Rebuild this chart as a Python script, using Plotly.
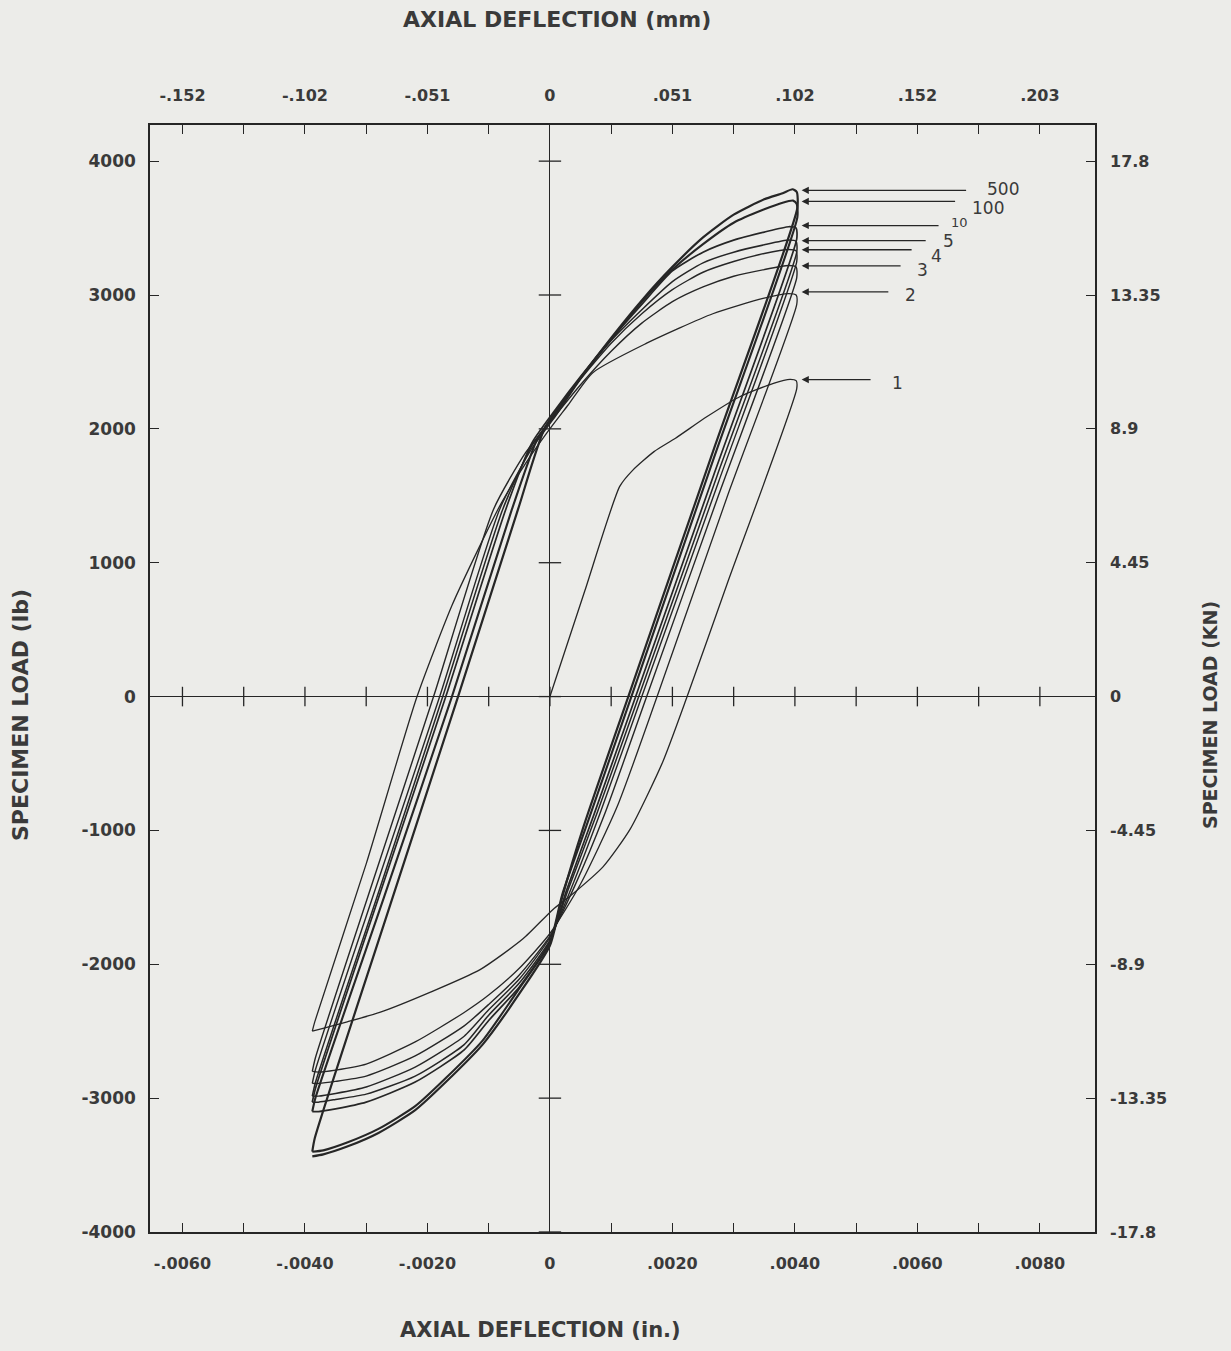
import plotly.graph_objects as go

# ---------------- data (inches, lb) ----------------
cycle_labels = ["1", "2", "3", "4", "5", "10", "100", "500"]

c1_x = [0.0, 0.00057, 0.00114, 0.00135, 0.00170, 0.00205, 0.00256, 0.00310, 0.00365, 0.00392, 0.00402,
        0.00403, 0.00290, 0.00224, 0.00184, 0.00131, 0.00087, 0.00033, 0.00005, -0.00044, -0.00114,
        -0.00196, -0.00278, -0.00331, -0.00372, -0.00388]
c1_y = [0, 790, 1570, 1690, 1830, 1930, 2090, 2240, 2340, 2370, 2360,
        2300, 850, 0, -490, -990, -1270, -1490, -1590, -1810, -2040,
        -2210, -2360, -2430, -2480, -2500]

c2_x = [-0.00388, -0.00384, -0.00300, -0.00217, -0.00160, -0.00115, -0.00080, -0.00040, -0.00005, 0.00030,
        0.00070, 0.00158, 0.00266, 0.00348, 0.00390, 0.00402,
        0.00403, 0.00290, 0.00175, 0.00110, 0.00050, 0.00000, -0.00050, -0.00100, -0.00140, -0.00220,
        -0.00300, -0.00350, -0.00378, -0.00388]
c2_y = [-2500, -2430, -1250, 0, 680, 1120, 1440, 1740, 1970, 2180,
        2420, 2640, 2860, 2975, 3010, 3000,
        2930, 1500, 0, -820, -1400, -1770, -2030, -2230, -2360, -2580,
        -2745, -2790, -2805, -2800]

c3_x = [-0.00388, -0.00383, -0.00289, -0.00190, -0.00092, -0.00040, 0.00000, 0.00050, 0.00100, 0.00150,
        0.00200, 0.00250, 0.00300, 0.00350, 0.00390, 0.00402,
        0.00403, 0.00275, 0.00158, 0.00090, 0.00040, 0.00000, -0.00050, -0.00100, -0.00140, -0.00220,
        -0.00300, -0.00350, -0.00378, -0.00388]
c3_y = [-2800, -2700, -1380, 0, 1400, 1820, 2050, 2330, 2580, 2790,
        2950, 3060, 3140, 3190, 3220, 3210,
        3130, 1500, 0, -870, -1420, -1790, -2080, -2300, -2460, -2685,
        -2835, -2875, -2890, -2890]

c4_x = [-0.00388, -0.00383, -0.00286, -0.00180, -0.00082, -0.00030, 0.00010, 0.00050, 0.00100, 0.00150,
        0.00200, 0.00250, 0.00300, 0.00350, 0.00390, 0.00402,
        0.00403, 0.00275, 0.00150, 0.00082, 0.00035, 0.00000, -0.00050, -0.00100, -0.00140, -0.00220,
        -0.00300, -0.00350, -0.00378, -0.00388]
c4_y = [-2890, -2790, -1450, 0, 1400, 1850, 2100, 2370, 2640, 2860,
        3040, 3170, 3250, 3310, 3340, 3330,
        3250, 1600, 0, -870, -1430, -1800, -2110, -2340, -2537, -2768,
        -2917, -2965, -2985, -2985]

c5_x = [-0.00388, -0.00383, -0.00279, -0.00175, -0.00077, -0.00030, 0.00010, 0.00050, 0.00100, 0.00150,
        0.00200, 0.00250, 0.00300, 0.00350, 0.00390, 0.00402,
        0.00403, 0.00273, 0.00145, 0.00077, 0.00030, 0.00000, -0.00050, -0.00100, -0.00140, -0.00220,
        -0.00300, -0.00350, -0.00378, -0.00388]
c5_y = [-2985, -2885, -1450, 0, 1400, 1870, 2120, 2380, 2660, 2890,
        3100, 3240, 3320, 3375, 3410, 3400,
        3320, 1650, 0, -870, -1440, -1820, -2140, -2380, -2600, -2835,
        -2970, -3010, -3030, -3030]

c10_x = [-0.00388, -0.00383, -0.00276, -0.00170, -0.00072, -0.00030, 0.00010, 0.00050, 0.00100, 0.00150,
         0.00200, 0.00250, 0.00300, 0.00350, 0.00390, 0.00402,
         0.00403, 0.00267, 0.00140, 0.00072, 0.00027, 0.00000, -0.00050, -0.00100, -0.00140, -0.00220,
         -0.00300, -0.00350, -0.00378, -0.00388]
c10_y = [-3030, -2930, -1450, 0, 1400, 1890, 2150, 2390, 2670, 2930,
         3180, 3320, 3410, 3470, 3510, 3500,
         3420, 1650, 0, -880, -1450, -1830, -2170, -2420, -2640, -2880,
         -3030, -3080, -3100, -3100]

c100_x = [-0.00388, -0.00383, -0.00271, -0.00160, -0.00062, -0.00020, 0.00010, 0.00050, 0.00100, 0.00150,
          0.00200, 0.00250, 0.00300, 0.00350, 0.00380, 0.00397, 0.00403,
          0.00404, 0.00269, 0.00133, 0.00060, 0.00020, 0.00000, -0.00050, -0.00110, -0.00170, -0.00220,
          -0.00280, -0.00330, -0.00370, -0.00388]
c100_y = [-3100, -3000, -1500, 0, 1400, 1930, 2120, 2380, 2670, 2950,
          3190, 3380, 3540, 3640, 3690, 3705, 3680,
          3580, 1800, 0, -960, -1480, -1840, -2180, -2570, -2850, -3060,
          -3230, -3330, -3390, -3400]

c500_x = [-0.00388, -0.00384, -0.00271, -0.00150, -0.00052, -0.00008, 0.00050, 0.00100, 0.00150,
          0.00200, 0.00250, 0.00300, 0.00350, 0.00380, 0.00396, 0.00403,
          0.00404, 0.00270, 0.00128, 0.00055, 0.00020, 0.00000, -0.00050, -0.00110, -0.00170, -0.00220,
          -0.00280, -0.00330, -0.00370, -0.00388]
c500_y = [-3400, -3300, -1700, 0, 1400, 2010, 2380, 2680, 2960,
          3210, 3430, 3600, 3715, 3760, 3790, 3770,
          3650, 1880, 0, -970, -1500, -1860, -2220, -2600, -2880, -3090,
          -3260, -3360, -3420, -3435]

loops_x = [c1_x, c2_x, c3_x, c4_x, c5_x, c10_x, c100_x, c500_x]
loops_y = [c1_y, c2_y, c3_y, c4_y, c5_y, c10_y, c100_y, c500_y]

# axis ticks
in_ticks = [-0.006, -0.005, -0.004, -0.003, -0.002, -0.001, 0.0, 0.001, 0.002, 0.003, 0.004, 0.005, 0.006, 0.007, 0.008]
in_labels = ["-.0060", "", "-.0040", "", "-.0020", "", "0", "", ".0020", "", ".0040", "", ".0060", "", ".0080"]
mm_labels = ["-.152", "", "-.102", "", "-.051", "", "0", "", ".051", "", ".102", "", ".152", "", ".203"]
lb_ticks = [4000, 3000, 2000, 1000, 0, -1000, -2000, -3000, -4000]
lb_labels = ["4000", "3000", "2000", "1000", "0", "-1000", "-2000", "-3000", "-4000"]
kn_labels = ["17.8", "13.35", "8.9", "4.45", "0", "-4.45", "-8.9", "-13.35", "-17.8"]

# cycle-number arrows
arrow_labels = ["500", "100", "10", "5", "4", "3", "2", "1"]
arrow_loads = [3782, 3699, 3519, 3406, 3338, 3218, 3023, 2368]
arrow_tail_x = [0.00682, 0.00664, 0.00637, 0.00616, 0.00593, 0.00575, 0.00555, 0.00526]
label_x = [0.00740, 0.00715, 0.00668, 0.00651, 0.00631, 0.00609, 0.00588, 0.00567]
label_y = [3790, 3650, 3545, 3400, 3290, 3185, 3000, 2345]

# ---------------- figure ----------------
INK = "#262626"
TXT = "#3a3a3a"
BG = "#ecece9"
FONT = "DejaVu Sans"

fig = go.Figure()

widths = [1.3, 1.3, 1.4, 1.4, 1.5, 1.7, 2.1, 2.2]
for lx, ly, lab, w in zip(loops_x, loops_y, cycle_labels, widths):
    fig.add_trace(go.Scatter(x=lx, y=ly, mode="lines", name="cycle " + lab,
                             line=dict(color=INK, width=w, shape="spline", smoothing=0.6),
                             hoverinfo="skip", showlegend=False))

# cross ticks on the inner axes
fig.add_trace(go.Scatter(x=[0.0] * len(lb_ticks), y=lb_ticks, mode="markers",
                         marker=dict(symbol="line-ew", size=16, line=dict(color=INK, width=1.3)),
                         hoverinfo="skip", showlegend=False))
fig.add_trace(go.Scatter(x=in_ticks, y=[0.0] * len(in_ticks), mode="markers",
                         marker=dict(symbol="line-ns", size=14, line=dict(color=INK, width=1.3)),
                         hoverinfo="skip", showlegend=False))
# dummy trace for secondary axes
fig.add_trace(go.Scatter(x=[None], y=[None], xaxis="x2", yaxis="y2", showlegend=False, hoverinfo="skip"))

xr = [-0.00653, 0.0089]
yr = [-4000, 4270]
xfont = dict(family=FONT, size=16, color=TXT, weight="bold")
ylfont = dict(family=FONT, size=17, color=TXT, weight="bold")
yrfont = dict(family=FONT, size=16, color=TXT, weight="bold")

fig.update_layout(
    width=1215, height=1335,
    margin=dict(l=142, r=128, t=117, b=111),
    paper_bgcolor=BG, plot_bgcolor=BG,
    showlegend=False, hovermode=False,
    xaxis=dict(range=xr, tickmode="array", tickvals=in_ticks, ticktext=in_labels,
               ticks="inside", ticklen=9, tickwidth=1.3, tickcolor=INK,
               showline=True, linecolor=INK, linewidth=1.6, showgrid=False,
               zeroline=True, zerolinecolor=INK, zerolinewidth=1.2,
               tickfont=xfont, side="bottom", ticklabelstandoff=16),
    xaxis2=dict(range=xr, overlaying="x", side="top", tickmode="array", tickvals=in_ticks, ticktext=mm_labels,
                ticks="inside", ticklen=9, tickwidth=1.3, tickcolor=INK,
                showline=True, linecolor=INK, linewidth=1.6, showgrid=False, zeroline=False,
                tickfont=xfont, ticklabelstandoff=16),
    yaxis=dict(range=yr, tickmode="array", tickvals=lb_ticks, ticktext=lb_labels,
               ticks="inside", ticklen=9, tickwidth=1.3, tickcolor=INK,
               showline=True, linecolor=INK, linewidth=1.6, showgrid=False,
               zeroline=True, zerolinecolor=INK, zerolinewidth=1.2,
               tickfont=ylfont, ticklabelstandoff=9),
    yaxis2=dict(range=yr, overlaying="y", side="right", tickmode="array", tickvals=lb_ticks, ticktext=kn_labels,
                ticks="inside", ticklen=9, tickwidth=1.3, tickcolor=INK,
                showline=True, linecolor=INK, linewidth=1.6, showgrid=False, zeroline=False,
                tickfont=yrfont, ticklabelstandoff=10),
)

annotations = [
    dict(text="AXIAL DEFLECTION (mm)", x=0.4307, y=1.0949, xref="paper", yref="paper",
         showarrow=False, font=dict(family=FONT, size=22, color=TXT, weight="bold"),
         xanchor="center", yanchor="middle"),
    dict(text="AXIAL DEFLECTION (in.)", x=0.4127, y=-0.0885, xref="paper", yref="paper",
         showarrow=False, font=dict(family=FONT, size=21, color=TXT, weight="bold"),
         xanchor="center", yanchor="middle"),
    dict(text="SPECIMEN LOAD (lb)", x=-0.1376, y=0.467, xref="paper", yref="paper", textangle=-90,
         showarrow=False, font=dict(family=FONT, size=22, color=TXT, weight="bold"),
         xanchor="center", yanchor="middle"),
    dict(text="SPECIMEN LOAD (KN)", x=1.1217, y=0.467, xref="paper", yref="paper", textangle=-90,
         showarrow=False, font=dict(family=FONT, size=19, color=TXT, weight="bold"),
         xanchor="center", yanchor="middle"),
]
for lab, yv, tx, lx, ly in zip(arrow_labels, arrow_loads, arrow_tail_x, label_x, label_y):
    annotations.append(dict(x=0.00411, y=yv, ax=tx, ay=yv, axref="x", ayref="y", xref="x", yref="y",
                            text="", showarrow=True, arrowhead=2, arrowsize=1.1, arrowwidth=1.3,
                            arrowcolor=INK))
    annotations.append(dict(x=lx, y=ly, xref="x", yref="y", text=lab, showarrow=False,
                            font=dict(family=FONT, size=17 if lab != "10" else 13, color=TXT),
                            xanchor="center", yanchor="middle"))
fig.update_layout(annotations=annotations)

# match the page background around the figure to the paper colour
page_bg = "document.body.style.background='" + BG + "';"
fig.write_html("out.html", post_script=page_bg)
